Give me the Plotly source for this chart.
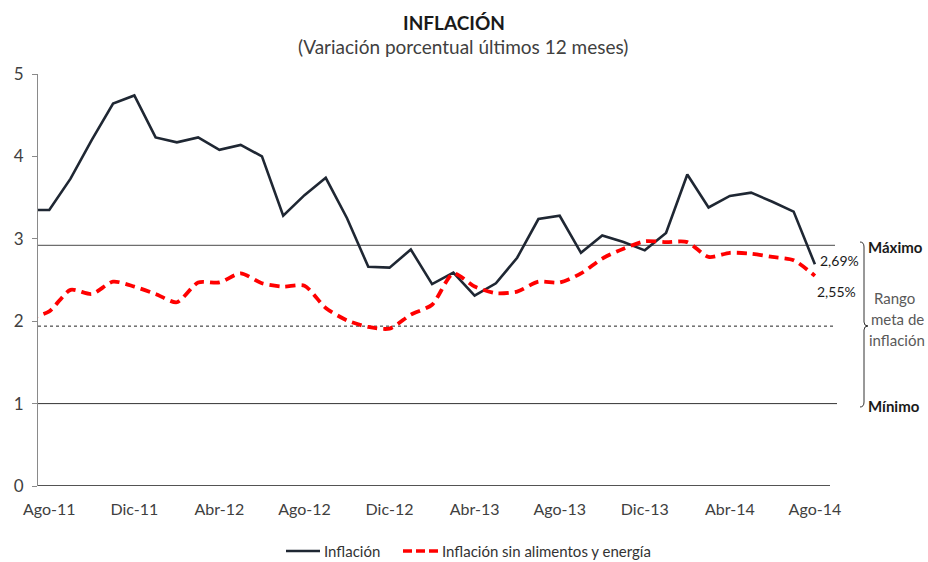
import plotly.graph_objects as go

# ---- data ----
months = ["Jul-11", "Ago-11", "Sep-11", "Oct-11", "Nov-11", "Dic-11",
          "Ene-12", "Feb-12", "Mar-12", "Abr-12", "May-12", "Jun-12",
          "Jul-12", "Ago-12", "Sep-12", "Oct-12", "Nov-12", "Dic-12",
          "Ene-13", "Feb-13", "Mar-13", "Abr-13", "May-13", "Jun-13",
          "Jul-13", "Ago-13", "Sep-13", "Oct-13", "Nov-13", "Dic-13",
          "Ene-14", "Feb-14", "Mar-14", "Abr-14", "May-14", "Jun-14",
          "Jul-14", "Ago-14"]
inflacion = [3.35, 3.35, 3.73, 4.20, 4.64, 4.74,
             4.23, 4.17, 4.23, 4.08, 4.14, 4.00,
             3.28, 3.53, 3.74, 3.25, 2.66, 2.65,
             2.87, 2.45, 2.59, 2.31, 2.46, 2.77,
             3.24, 3.28, 2.83, 3.04, 2.96, 2.86,
             3.07, 3.78, 3.38, 3.52, 3.56, 3.45,
             3.33, 2.69]
inflacion_sae = [2.03, 2.12, 2.38, 2.33, 2.48, 2.42,
                 2.33, 2.23, 2.47, 2.47, 2.58, 2.46,
                 2.42, 2.43, 2.16, 2.01, 1.93, 1.91,
                 2.08, 2.20, 2.58, 2.42, 2.34, 2.36,
                 2.48, 2.47, 2.58, 2.76, 2.88, 2.97,
                 2.96, 2.96, 2.78, 2.83, 2.82, 2.78,
                 2.74, 2.55]
tick_labels = ["Ago-11", "Dic-11", "Abr-12", "Ago-12", "Dic-12",
               "Abr-13", "Ago-13", "Dic-13", "Abr-14", "Ago-14"]
y_ticks = [0, 1, 2, 3, 4, 5]
meta_lines = [2.92, 1.94, 1.0]   # reference lines drawn in the chart
last_labels = ["2,69%", "2,55%"]
series_names = ["Inflación", "Inflación sin alimentos y energía"]

FONT = "Lato"
W, H = 928, 562
L, R, T, B = 38, 830, 74, 486

BLACK = "#1f2733"
RED = "#ff0000"
RED_DASH = "10px,6px"


def px_x(px):
    return (px - L) / (R - L)


def px_py(py):
    return (B - py) / (B - T)


def px_y(py):
    return 5 * (B - py) / (B - T)


fig = go.Figure()
fig.add_trace(go.Scatter(
    x=months, y=inflacion, mode="lines", name=series_names[0],
    line=dict(color=BLACK, width=2.6)))
fig.add_trace(go.Scatter(
    x=months, y=inflacion_sae, mode="lines", name=series_names[1],
    line=dict(color=RED, width=3.8, dash=RED_DASH,
              shape="spline", smoothing=0.7)))

shapes = []
styles = [dict(color="#6e6e6e", width=1.2),
          dict(color="#222222", width=1, dash="dot"),
          dict(color="#333333", width=1)]
ends = [835, 833, 837]
for v, st, e in zip(meta_lines, styles, ends):
    shapes.append(dict(type="line", xref="paper", yref="y",
                       x0=0, x1=px_x(e), y0=v, y1=v, line=st, layer="below"))

# x-axis baseline
shapes.append(dict(type="line", xref="paper", yref="y", x0=0, x1=1,
                   y0=0, y1=0, line=dict(color="#1a1a1a", width=1.5)))

# curly brace
bx0, bx1, bx2 = px_x(860), px_x(864), px_x(868)
ya, yb, yc, yd, ye, yf, yg = (px_y(242), px_y(247), px_y(322), px_y(326),
                              px_y(330), px_y(402), px_y(407))
path = (f"M {bx0} {ya} Q {bx1} {ya} {bx1} {yb} L {bx1} {yc} "
        f"Q {bx1} {yd} {bx2} {yd} Q {bx1} {yd} {bx1} {ye} "
        f"L {bx1} {yf} Q {bx1} {yg} {bx0} {yg}")
shapes.append(dict(type="path", xref="paper", yref="y", path=path,
                   line=dict(color="#333333", width=1)))

# manual legend samples
LEG_Y = 551
shapes.append(dict(type="line", xref="paper", yref="paper",
                   x0=px_x(286), x1=px_x(320), y0=px_py(LEG_Y), y1=px_py(LEG_Y),
                   line=dict(color=BLACK, width=2.6)))
shapes.append(dict(type="line", xref="paper", yref="paper",
                   x0=px_x(403), x1=px_x(438), y0=px_py(LEG_Y), y1=px_py(LEG_Y),
                   line=dict(color=RED, width=3.6, dash="9px,4px")))

ann = [
    dict(text="<b>INFLACIÓN</b>", x=454, y=22, size=19, color="#1a1a1a"),
    dict(text="(Variación porcentual últimos 12 meses)", x=463, y=47,
         size=19, color="#404040"),
    dict(text=last_labels[0], x=839, y=260, size=14, color="#1a1a1a"),
    dict(text=last_labels[1], x=836, y=291, size=14, color="#1a1a1a"),
    dict(text="<b>Máximo</b>", x=896, y=247, size=15, color="#1a1a1a"),
    dict(text="<b>Mínimo</b>", x=894, y=406, size=15, color="#1a1a1a"),
    dict(text="Rango", x=894, y=298, size=15, color="#595959"),
    dict(text="meta de", x=897, y=319, size=15, color="#595959"),
    dict(text="inflación", x=897, y=340, size=15, color="#595959"),
]
annotations = [dict(text=a["text"], xref="paper", yref="paper",
                    x=px_x(a["x"]), y=px_py(a["y"]),
                    xanchor="center", yanchor="middle", showarrow=False,
                    font=dict(family=FONT, size=a["size"], color=a["color"]))
               for a in ann]
for name, xs in zip(series_names, [322, 440]):
    annotations.append(dict(text=name, xref="paper", yref="paper",
                            x=px_x(xs), y=px_py(LEG_Y), xanchor="left",
                            yanchor="middle", showarrow=False,
                            font=dict(family=FONT, size=15, color="#333333")))

fig.update_layout(
    width=W, height=H,
    margin=dict(l=L, r=W - R, t=T, b=H - B, autoexpand=False),
    paper_bgcolor="white", plot_bgcolor="white",
    font=dict(family=FONT, color="#404040"),
    showlegend=False,
    xaxis=dict(type="category", categoryorder="array", categoryarray=months,
               range=[0.47, 37.71], tickvals=tick_labels, ticktext=tick_labels,
               showgrid=False, zeroline=False, showline=False, ticks="",
               ticklabelstandoff=12, automargin=False,
               tickfont=dict(family=FONT, size=16, color="#404040")),
    yaxis=dict(range=[0, 5], tickvals=y_ticks, showgrid=False, zeroline=False,
               showline=True, linecolor="#8a8a8a", linewidth=1,
               ticks="outside", ticklen=5, tickcolor="#8a8a8a",
               ticklabelstandoff=5, automargin=False,
               tickfont=dict(family=FONT, size=17, color="#404040")),
    shapes=shapes,
    annotations=annotations,
)

fig.write_html(
    "out.html",
    config={"displayModeBar": False},
    post_script="document.body.style.margin='0';"
                "document.body.style.overflow='hidden';",
)
